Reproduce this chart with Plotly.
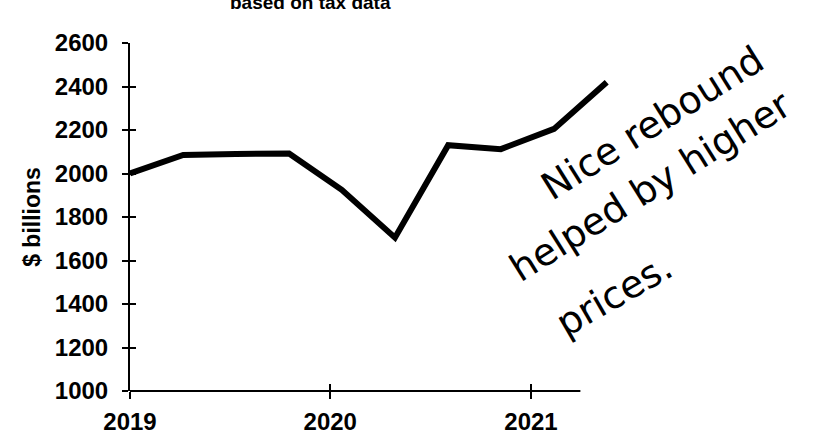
import plotly.graph_objects as go

# ---- data ----
dates = ["2019-01-01", "2019-04-08", "2019-07-13", "2019-10-18", "2020-01-22",
         "2020-04-28", "2020-08-03", "2020-11-07", "2021-02-12", "2021-05-19"]
values = [2000, 2085, 2090, 2092, 1925, 1705, 2130, 2112, 2205, 2420]
x_tick_vals = ["2019-01-01", "2020-01-01", "2021-01-01"]
x_tick_text = ["2019", "2020", "2021"]
y_tick_vals = [1000, 1200, 1400, 1600, 1800, 2000, 2200, 2400, 2600]
title_text = "based on tax data"
y_title = "$ billions"
note_lines = ["Nice rebound", "helped by higher", "prices."]

# ---- layout settings ----
x_range = ["2019-01-01", "2021-05-25"]
x_axis_end = "2021-04-01"
y_range = [1000, 2600]
base_family = "Liberation Sans, Arial, sans-serif"
tick_font = dict(family=base_family, size=24, color="black", weight="bold")
hand_font = dict(family="DejaVu Sans, sans-serif", size=38, color="black")

fig = go.Figure()
fig.add_trace(go.Scatter(x=dates, y=values, mode="lines",
                         line=dict(color="black", width=6), hoverinfo="skip",
                         showlegend=False))
# invisible helper trace on the overlay axes (for crossing tick marks)
fig.add_trace(go.Scatter(x=[dates[0]], y=[values[0]], xaxis="x2", yaxis="y2",
                         mode="markers", marker=dict(opacity=0), showlegend=False,
                         hoverinfo="skip"))

fig.update_layout(
    width=814, height=434,
    margin=dict(l=130, r=204, t=43, b=43, autoexpand=False),
    paper_bgcolor="white", plot_bgcolor="white",
    showlegend=False,
    xaxis=dict(type="date", range=x_range, showline=False, showgrid=False, zeroline=False,
               automargin=False,
               tickmode="array", tickvals=x_tick_vals, ticktext=x_tick_text,
               ticks="outside", ticklen=7, tickwidth=2, tickcolor="black",
               tickfont=tick_font, ticklabelstandoff=2),
    xaxis2=dict(type="date", range=x_range, overlaying="x", showline=False, showgrid=False,
                zeroline=False, automargin=False, tickmode="array", tickvals=x_tick_vals,
                ticks="inside", ticklen=7, tickwidth=2, tickcolor="black",
                showticklabels=False),
    yaxis=dict(range=y_range, showline=True, linewidth=2, linecolor="black",
               showgrid=False, zeroline=False, automargin=False,
               tickmode="array", tickvals=y_tick_vals,
               ticks="outside", ticklen=6, tickwidth=2, tickcolor="black",
               tickfont=tick_font, ticklabelstandoff=9,
               title=dict(text=y_title, standoff=8,
                          font=dict(family=base_family, size=23,
                                    color="black", weight="bold"))),
    yaxis2=dict(range=y_range, overlaying="y", showline=False, showgrid=False,
                zeroline=False, automargin=False, tickmode="array", tickvals=y_tick_vals,
                ticks="inside", ticklen=6, tickwidth=2, tickcolor="black",
                showticklabels=False),
)

# x axis line (ends before the last data point, as in the reference)
fig.add_shape(type="line", xref="x", yref="paper", x0=x_range[0], x1=x_axis_end,
              y0=0, y1=0, line=dict(color="black", width=2))

# title (partly cut off at the top)
fig.add_annotation(text=title_text, xref="paper", yref="paper", x=0.375, y=1.115,
                   showarrow=False, xanchor="center", yanchor="middle",
                   font=dict(family=base_family, size=19, color="black", weight="bold"))

# handwritten note
note_pos = [(1.089, 0.770, -32), (1.085, 0.589, -32), (1.008, 0.276, -30)]
for txt, (px, py, ang) in zip(note_lines, note_pos):
    fig.add_annotation(text=txt, xref="paper", yref="paper", x=px, y=py,
                       showarrow=False, textangle=ang, xanchor="center", yanchor="middle",
                       font=hand_font)

fig.write_html("out.html", config={"displayModeBar": False},
               post_script="document.body.style.margin='0';")
